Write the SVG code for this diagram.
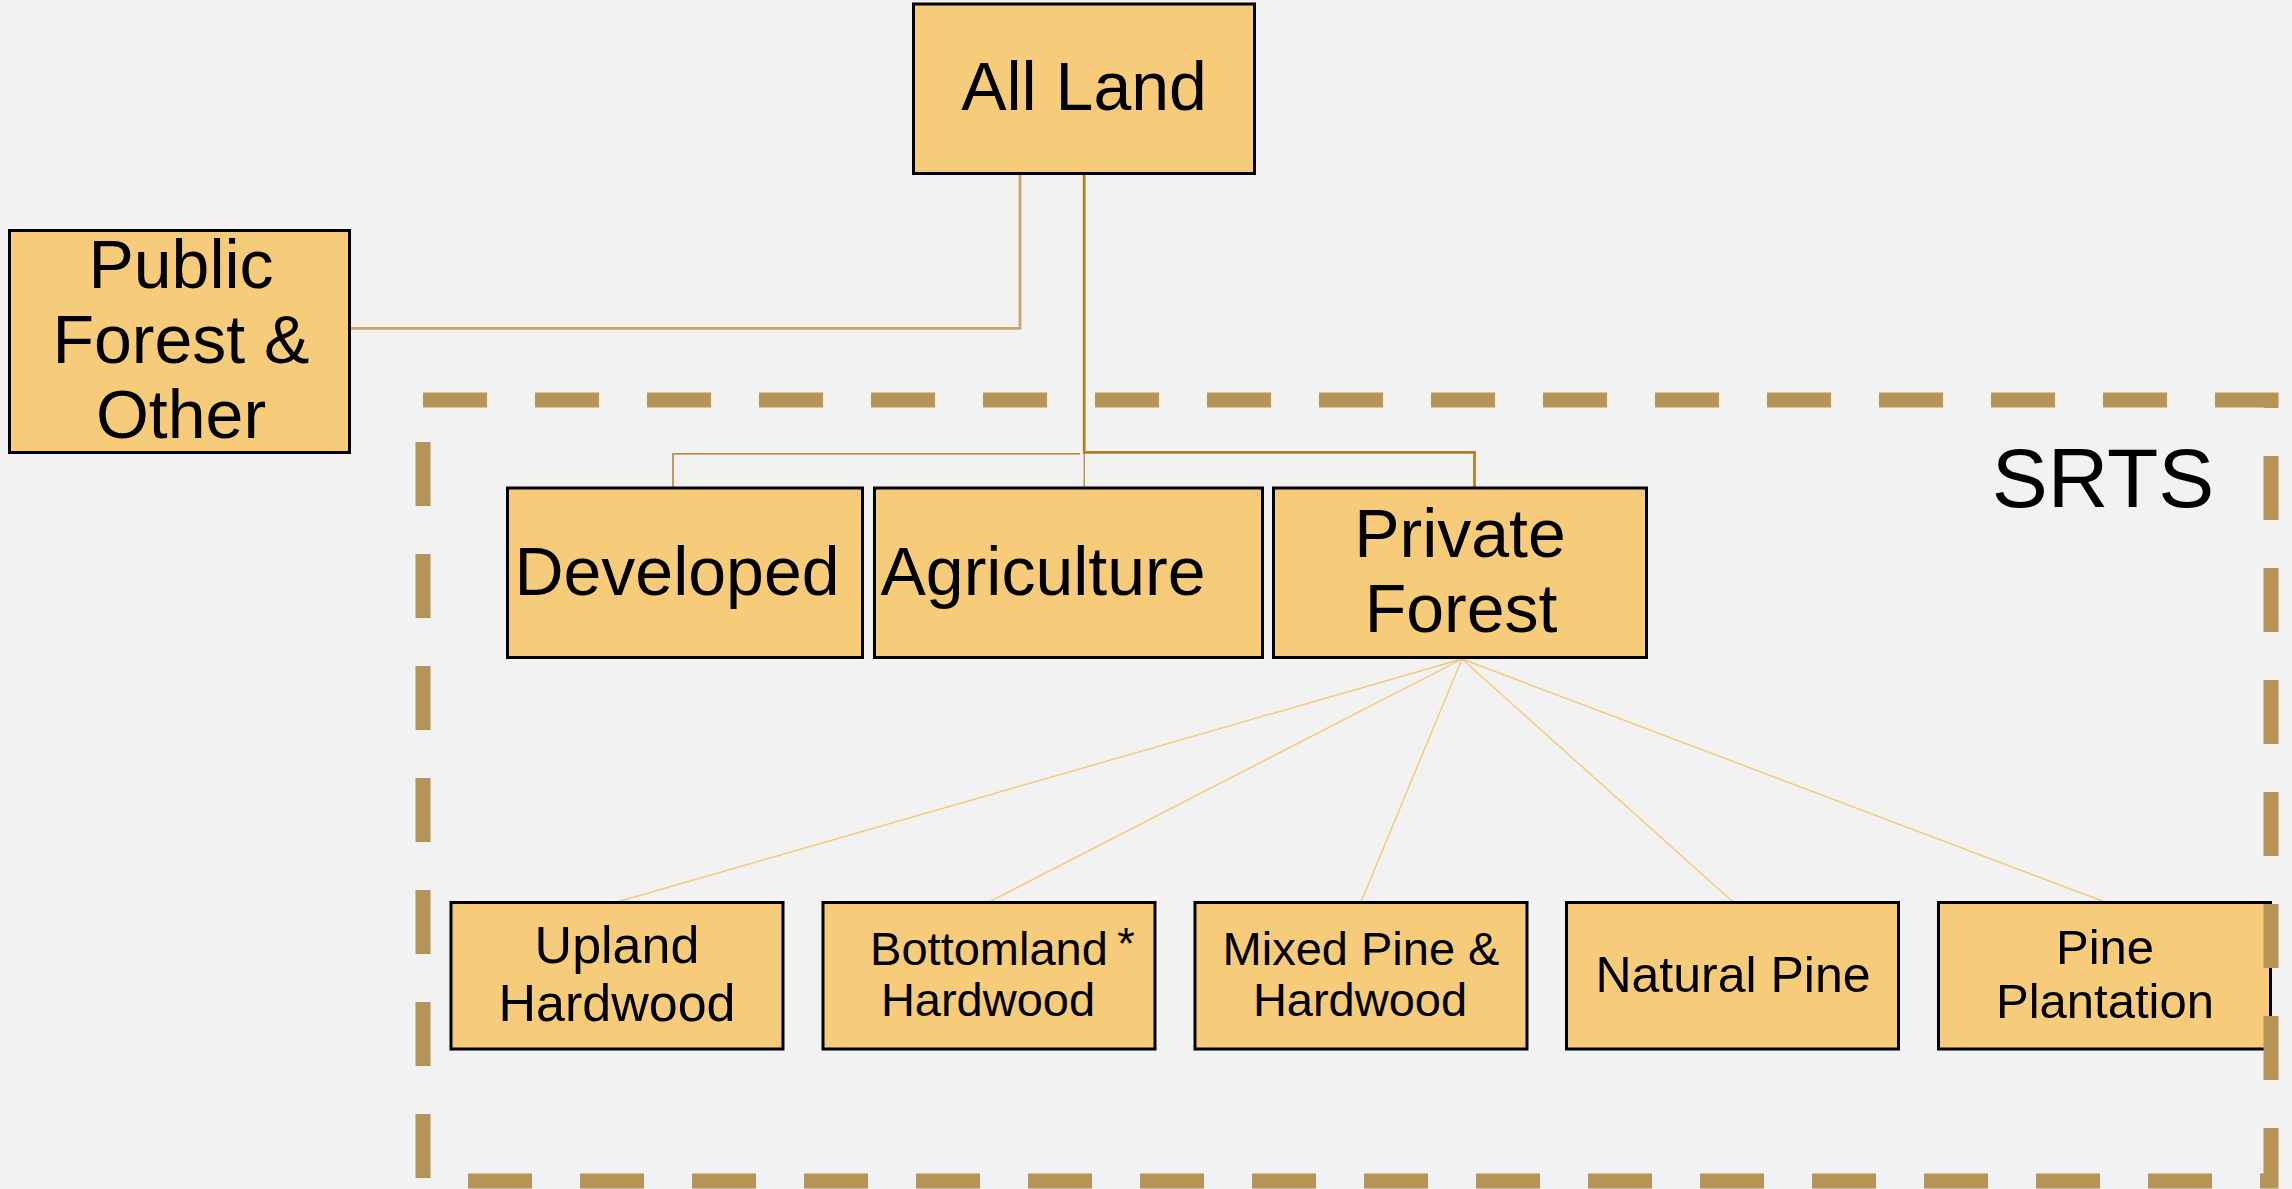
<svg xmlns="http://www.w3.org/2000/svg" width="2292" height="1189" viewBox="0 0 2292 1189">
<style>
.box{fill:#f6cb79;stroke:#000;stroke-width:3}
.t{font-family:"Liberation Sans",Arial,sans-serif;fill:#000;text-anchor:middle}
.big{font-size:68px}
.mid{font-size:47px}
.fan{stroke:#f5c778;stroke-width:1.4;fill:none}
</style>
<rect x="0" y="0" width="2292" height="1189" fill="#f2f2f2"/>
<g id="connectors" fill="none">
<polyline points="1020,174 1020,328.3 351,328.3" stroke="#c9a463" stroke-width="2.7"/>
<polyline points="1084.2,174 1084.2,452.3 1474.5,452.3 1474.5,487" stroke="#b47d22" stroke-width="2.7"/>
<polyline points="1080,453.8 673,453.8 673,487" stroke="#c09050" stroke-width="1.8"/>
<line x1="1084.2" y1="452" x2="1084.2" y2="487" stroke="#b47d22" stroke-width="1.2"/>
<line class="fan" x1="1462" y1="659" x2="617" y2="902"/>
<line class="fan" x1="1462" y1="659" x2="989" y2="902"/>
<line class="fan" x1="1462" y1="659" x2="1361" y2="902"/>
<line class="fan" x1="1462" y1="659" x2="1733" y2="902"/>
<line class="fan" x1="1462" y1="659" x2="2105" y2="902"/>
</g>
<g id="all-land"><rect class="box" x="913.5" y="4" width="341" height="169.5"/><text class="t big" x="1084" y="110">All Land</text></g>
<g id="public-forest"><rect class="box" x="9.5" y="230.5" width="340" height="222"/><text class="t big" x="181" y="288">Public</text><text class="t big" x="181" y="363">Forest &amp;</text><text class="t big" x="181" y="438">Other</text></g>
<g id="developed"><rect class="box" x="507.5" y="488" width="355" height="169.5"/><text class="t big" x="677" y="595">Developed</text></g>
<g id="agriculture"><rect class="box" x="874.5" y="488" width="388" height="169.5"/><text class="t big" x="1043" y="595">Agriculture</text></g>
<g id="private-forest"><rect class="box" x="1273.5" y="488" width="373" height="169.5"/><text class="t big" x="1460" y="557">Private</text><text class="t big" x="1461" y="632">Forest</text></g>
<g id="upland-hardwood"><rect class="box" x="451" y="902.5" width="332" height="146.5"/><text class="t" font-size="52" x="617" y="963">Upland</text><text class="t" font-size="52" x="617" y="1020.5">Hardwood</text></g>
<g id="bottomland-hardwood"><rect class="box" x="823" y="902.5" width="332" height="146.5"/><text class="t mid" x="989" y="965">Bottomland</text><text class="t mid" x="988" y="1016">Hardwood</text><text class="t" font-size="45" x="1126" y="959">*</text></g>
<g id="mixed-pine-hardwood"><rect class="box" x="1195" y="902.5" width="332" height="146.5"/><text class="t mid" x="1361" y="965">Mixed Pine &amp;</text><text class="t mid" x="1360" y="1016">Hardwood</text></g>
<g id="natural-pine"><rect class="box" x="1566.5" y="902.5" width="332" height="146.5"/><text class="t" font-size="50" x="1733" y="992">Natural Pine</text></g>
<g id="pine-plantation"><rect class="box" x="1938.5" y="902.5" width="332" height="146.5"/><text class="t" font-size="49" x="2105" y="964">Pine</text><text class="t" font-size="49" x="2105" y="1018">Plantation</text></g>
<g id="srts">
<rect x="423" y="400" width="1848" height="781" fill="none" stroke="#b59456" stroke-width="15" stroke-dasharray="64 48"/>
<text class="t" font-size="84" x="2103" y="507">SRTS</text>
</g>
</svg>
